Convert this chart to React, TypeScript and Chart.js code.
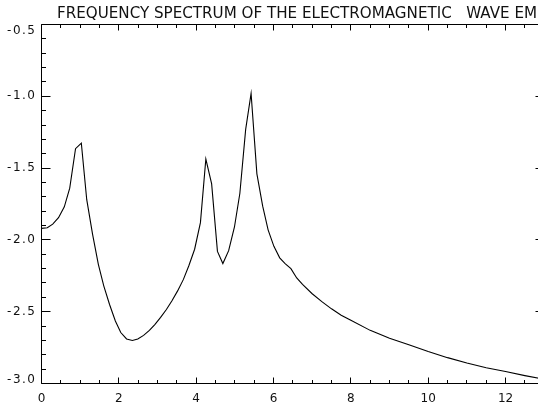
import React, { useEffect, useRef } from "react";
import { Chart, registerables } from "chart.js";

Chart.register(...registerables);

const TITLE = "FREQUENCY SPECTRUM OF THE ELECTROMAGNETIC   WAVE EM";

const freq = [
  0.0, 0.15, 0.29, 0.44, 0.59, 0.73, 0.88, 1.03, 1.17, 1.32, 1.47, 1.61, 1.76, 1.91,
  2.05, 2.2, 2.35, 2.49, 2.64, 2.79, 2.93, 3.08, 3.23, 3.37, 3.52, 3.67, 3.81, 3.96,
  4.11, 4.25, 4.4, 4.55, 4.69, 4.84, 4.99, 5.13, 5.28, 5.42, 5.57, 5.72, 5.86, 6.01,
  6.16, 6.3, 6.45, 6.6, 6.75, 7.0, 7.25, 7.5, 7.75, 8.0, 8.5, 9.0, 9.5, 10.0, 10.5,
  11.0, 11.5, 12.0, 12.5, 13.0,
];

const amplitude = [
  -1.92, -1.915, -1.89, -1.845, -1.77, -1.64, -1.365, -1.326, -1.72, -1.96, -2.17,
  -2.32, -2.45, -2.565, -2.645, -2.69, -2.7, -2.69, -2.665, -2.63, -2.59, -2.54,
  -2.485, -2.425, -2.355, -2.275, -2.18, -2.065, -1.88, -1.437, -1.61, -2.08, -2.165,
  -2.075, -1.91, -1.675, -1.23, -0.98, -1.54, -1.765, -1.93, -2.045, -2.125, -2.165,
  -2.2, -2.265, -2.31, -2.375, -2.43, -2.48, -2.525, -2.56, -2.63, -2.685, -2.73,
  -2.777, -2.82, -2.857, -2.89, -2.917, -2.945, -2.97,
];

const xMajorTicks = [0, 2, 4, 6, 8, 10, 12];
const xTickLabels = ["0", "2", "4", "6", "8", "10", "12"];
const yMajorTicks = [-3.0, -2.5, -2.0, -1.5, -1.0, -0.5];
const yTickLabels = ["-3.0", "-2.5", "-2.0", "-1.5", "-1.0", "-0.5"];

const X_MIN = 0;
const X_MAX = 13;
const Y_MIN = -3;
const Y_MAX = -0.5;
const X_MINOR_STEP = 0.5;
const Y_MINOR_STEP = 0.1;

const CANVAS_W = 550;
const CANVAS_H = 407;

const crisp = (v: number) => Math.round(v - 0.5) + 0.5;

const idlAxes = {
  id: "idlAxes",
  afterDraw(chart: any) {
    const { ctx, chartArea: a, scales } = chart;
    const xs = scales.x;
    const ys = scales.y;
    ctx.save();
    ctx.strokeStyle = "#000";
    ctx.lineWidth = 1;

    // box
    ctx.beginPath();
    ctx.rect(crisp(a.left), crisp(a.top), Math.round(a.right - a.left), Math.round(a.bottom - a.top));
    ctx.stroke();

    const L = crisp(a.left);
    const R = crisp(a.right);
    const T = crisp(a.top);
    const B = crisp(a.bottom);

    // x ticks
    ctx.beginPath();
    const nx = Math.round((X_MAX - X_MIN) / X_MINOR_STEP);
    for (let i = 0; i <= nx; i++) {
      const v = X_MIN + i * X_MINOR_STEP;
      const major = Math.abs(v / 2 - Math.round(v / 2)) < 1e-6;
      const len = major ? 6 : 3.5;
      const px = crisp(xs.getPixelForValue(v));
      ctx.moveTo(px, B);
      ctx.lineTo(px, B - len);
      ctx.moveTo(px, T);
      ctx.lineTo(px, T + len);
    }
    // y ticks
    const ny = Math.round((Y_MAX - Y_MIN) / Y_MINOR_STEP);
    for (let i = 0; i <= ny; i++) {
      const v = Y_MIN + i * Y_MINOR_STEP;
      const major = i % 5 === 0;
      const len = major ? 9 : 4.5;
      const py = crisp(ys.getPixelForValue(v));
      ctx.moveTo(L, py);
      ctx.lineTo(L + len, py);
      ctx.moveTo(R, py);
      ctx.lineTo(R - len, py);
    }
    ctx.stroke();

    // labels
    ctx.fillStyle = "#111";
    ctx.font = '12px "DejaVu Sans"';
    ctx.textBaseline = "middle";
    ctx.textAlign = "center";
    xMajorTicks.forEach((v, i) => {
      ctx.fillText(xTickLabels[i], xs.getPixelForValue(v), a.bottom + 15.5);
    });
    ctx.textAlign = "right";
    try {
      (ctx as any).letterSpacing = "1.5px";
    } catch (e) {}
    yMajorTicks.forEach((v, i) => {
      let py = ys.getPixelForValue(v);
      py = Math.min(Math.max(py, a.top + 6), a.bottom - 3.5);
      ctx.fillText(yTickLabels[i], a.left - 5, py);
    });
    try {
      (ctx as any).letterSpacing = "0px";
    } catch (e) {}

    // title, stretched to the reference's span
    ctx.font = '15px "DejaVu Sans"';
    ctx.textAlign = "left";
    ctx.textBaseline = "alphabetic";
    const w = ctx.measureText(TITLE).width;
    const target = 480;
    ctx.translate(57, 18);
    ctx.scale(target / w, 1);
    ctx.fillText(TITLE, 0, 0);
    ctx.restore();
  },
};

export default function App() {
  const canvasRef = useRef<HTMLCanvasElement | null>(null);

  useEffect(() => {
    const canvas = canvasRef.current;
    if (!canvas) return;
    const chart = new Chart(canvas, {
      type: "line",
      data: {
        datasets: [
          {
            data: freq.map((x, i) => ({ x, y: amplitude[i] })),
            borderColor: "#000",
            borderWidth: 1.1,
            pointRadius: 0,
            tension: 0,
            fill: false,
          },
        ],
      },
      options: {
        responsive: false,
        animation: false,
        devicePixelRatio: 1,
        layout: {
          padding: { left: 41.5, top: 24.5, right: CANVAS_W - 544.2, bottom: CANVAS_H - 383.5 },
        },
        plugins: {
          legend: { display: false },
          tooltip: { enabled: false },
          title: { display: false },
        },
        scales: {
          x: { type: "linear", min: X_MIN, max: X_MAX, display: false },
          y: { type: "linear", min: Y_MIN, max: Y_MAX, display: false },
        },
      },
      plugins: [idlAxes],
    });
    return () => chart.destroy();
  }, []);

  return (
    <div
      style={{
        position: "absolute",
        left: 0,
        top: 0,
        width: 538,
        height: 407,
        overflow: "hidden",
        background: "#fff",
      }}
    >
      <canvas
        ref={canvasRef}
        width={CANVAS_W}
        height={CANVAS_H}
        style={{ display: "block", width: CANVAS_W, height: CANVAS_H }}
      />
    </div>
  );
}
